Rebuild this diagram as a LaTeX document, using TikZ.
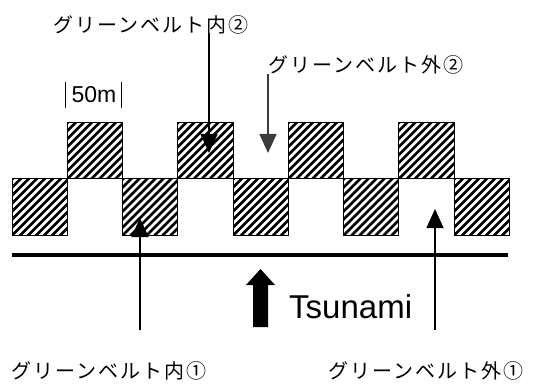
\documentclass[tikz,border=0pt]{standalone}
\usepackage{fontspec}
\setmainfont{Liberation Sans}
\newfontfamily\jpfont[LetterSpace=10]{Noto Sans CJK JP}
\usetikzlibrary{arrows.meta}
\definecolor{darkarrow}{HTML}{3C3C3C}
\begin{document}
\begin{tikzpicture}[x=1pt,y=-1pt,
  jplabel/.style={font=\jpfont\fontsize{20}{22}\selectfont, inner sep=0pt},
  conn/.style={line width=1.4pt, -{Triangle[length=19pt,width=17pt]}},
  sqedge/.style={line width=1pt}]
\useasboundingbox (0,0) rectangle (535,390);
% hatched squares
\foreach \x/\y in {12/179, 122.5/179, 233/179, 343.5/179, 454/179,
                   67.25/122.5, 177.75/122.5, 288.25/122.5, 398.75/122.5} {
  \begin{scope}
    \clip (\x,\y) rectangle ++(55.3,56.5);
    \foreach \k in {-64,-56,...,56}
      \draw[line width=2.8pt] (\x+\k,\y+56.5) -- ++(64,-64);
  \end{scope}
  \draw[sqedge] (\x,\y) rectangle ++(55.3,56.5);
}
% shore line
\coordinate (shoreL) at (12,255);
\coordinate (shoreR) at (508,255);
\draw[line width=4.5pt] (shoreL) -- (shoreR);
% scale
\node[font=\fontsize{23}{25}\selectfont, inner sep=0pt] (scale) at (94,95) {50m};
\coordinate (barLt) at (65,82); \coordinate (barLb) at (65,108);
\coordinate (barRt) at (121,82); \coordinate (barRb) at (121,108);
\draw[line width=1pt] (barLt) -- (barLb);
\draw[line width=1pt] (barRt) -- (barRb);
% labels
\node[jplabel] (in2) at (151,25) {グリーンベルト内②};
\node[jplabel] (out2) at (366,65) {グリーンベルト外②};
\node[jplabel] (in1) at (109,371) {グリーンベルト内①};
\node[jplabel] (out1) at (426,371) {グリーンベルト外①};
% arrow ends
\coordinate (in2s) at (209,33);   \coordinate (in2t) at (209,153);
\coordinate (out2s) at (268,74);  \coordinate (out2t) at (268,153);
\coordinate (in1s) at (140,330);  \coordinate (in1t) at (140,218);
\coordinate (out1s) at (435,330); \coordinate (out1t) at (435,209);
\draw[conn] (in2s) -- (in2t);
\draw[conn, darkarrow] (out2s) -- (out2t);
\draw[conn] (in1s) -- (in1t);
\draw[conn] (out1s) -- (out1t);
% tsunami arrow
\fill (253,327) -- (253,285) -- (246,285) -- (260.5,269) -- (275,285) -- (268,285) -- (268,327) -- cycle;
\node[font=\fontsize{33}{35}\selectfont, inner sep=0pt, anchor=base west] (tsu) at (289,318) {Tsunami};
\end{tikzpicture}
\end{document}
